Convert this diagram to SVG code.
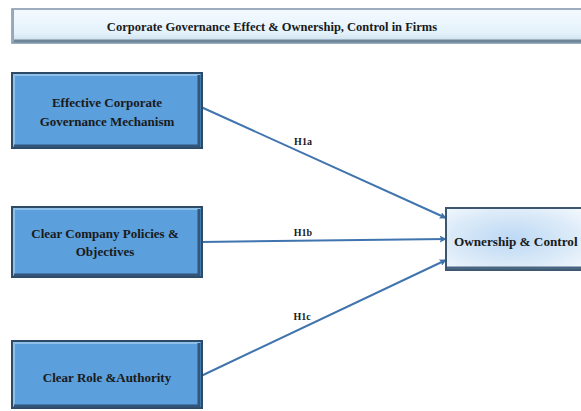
<svg xmlns="http://www.w3.org/2000/svg" width="581" height="411" viewBox="0 0 581 411">
<defs>
<linearGradient id="titleGrad" x1="0" y1="0" x2="0" y2="1">
<stop offset="0" stop-color="#f4fafe"/>
<stop offset="0.7" stop-color="#e4f2fb"/>
<stop offset="1" stop-color="#c9dcea"/>
</linearGradient>
<radialGradient id="targetGrad" cx="0.45" cy="0.5" r="0.7">
<stop offset="0" stop-color="#bcd8f4"/>
<stop offset="0.6" stop-color="#dbeaf8"/>
<stop offset="1" stop-color="#f4f9fe"/>
</radialGradient>
<marker id="arr" viewBox="0 0 10 10" refX="9" refY="5" markerWidth="7" markerHeight="7" orient="auto" markerUnits="userSpaceOnUse">
<path d="M0,0 L10,5 L0,10 L2,5 z" fill="#3f6fa6"/>
</marker>
</defs>
<style>
.box{fill:#5b9fdc;stroke:#2d4a66;stroke-width:2}
.bevL{stroke:#8fc0ea;stroke-width:2;fill:none}
.bevD{stroke:#33557a;stroke-width:3;fill:none}
.t{font-family:"Liberation Serif","Times New Roman",serif;font-weight:bold;fill:#1a1a1a;text-anchor:middle}
.bt{font-size:13px}
.lbl{font-size:10px}
.conn{stroke:#3f74ae;stroke-width:2;fill:none;marker-end:url(#arr)}
</style>
<rect width="581" height="411" fill="#ffffff"/>
<g id="title">
<rect x="12" y="9" width="575" height="34" fill="url(#titleGrad)" stroke="#7c93a8" stroke-width="1.5"/>
<line x1="13" y1="41" x2="581" y2="41" stroke="#6f8598" stroke-width="3"/>
<line x1="13" y1="10" x2="13" y2="42" stroke="#95a9ba" stroke-width="2"/>
<text class="t" x="272" y="31" font-size="12.5">Corporate Governance Effect &amp; Ownership, Control in Firms</text>
</g>
<g id="connectors">
<line class="conn" x1="201" y1="107" x2="446" y2="218"/>
<text class="t lbl" x="303" y="145">H1a</text>
<line class="conn" x1="201" y1="242" x2="446" y2="239"/>
<text class="t lbl" x="303" y="236">H1b</text>
<line class="conn" x1="201" y1="376" x2="446" y2="260"/>
<text class="t lbl" x="302" y="320">H1c</text>
</g>
<g id="node1">
<rect class="box" x="12" y="73" width="190" height="75"/>
<polyline class="bevL" points="14,146 14,75 200,75"/>
<polyline class="bevD" points="14,146 199,146 199,75"/>
<text class="t bt" x="107" y="107">Effective Corporate</text>
<text class="t bt" x="107" y="126">Governance Mechanism</text>
</g>
<g id="node2">
<rect class="box" x="12" y="207" width="190" height="70"/>
<polyline class="bevL" points="14,275 14,209 200,209"/>
<polyline class="bevD" points="14,275 199,275 199,209"/>
<text class="t bt" x="105" y="238">Clear Company Policies &amp;</text>
<text class="t bt" x="105" y="256">Objectives</text>
</g>
<g id="node3">
<rect class="box" x="12" y="341" width="190" height="67"/>
<polyline class="bevL" points="14,406 14,343 200,343"/>
<polyline class="bevD" points="14,406 199,406 199,343"/>
<text class="t bt" x="107" y="382">Clear Role &amp;Authority</text>
</g>
<g id="node4">
<rect x="446" y="208" width="145" height="62" fill="url(#targetGrad)" stroke="#3c5670" stroke-width="2"/>
<line x1="447" y1="268" x2="581" y2="268" stroke="#4a6680" stroke-width="3"/>
<text class="t" x="454" y="246" font-size="13.2" style="text-anchor:start">Ownership &amp; Control</text>
</g>
</svg>
